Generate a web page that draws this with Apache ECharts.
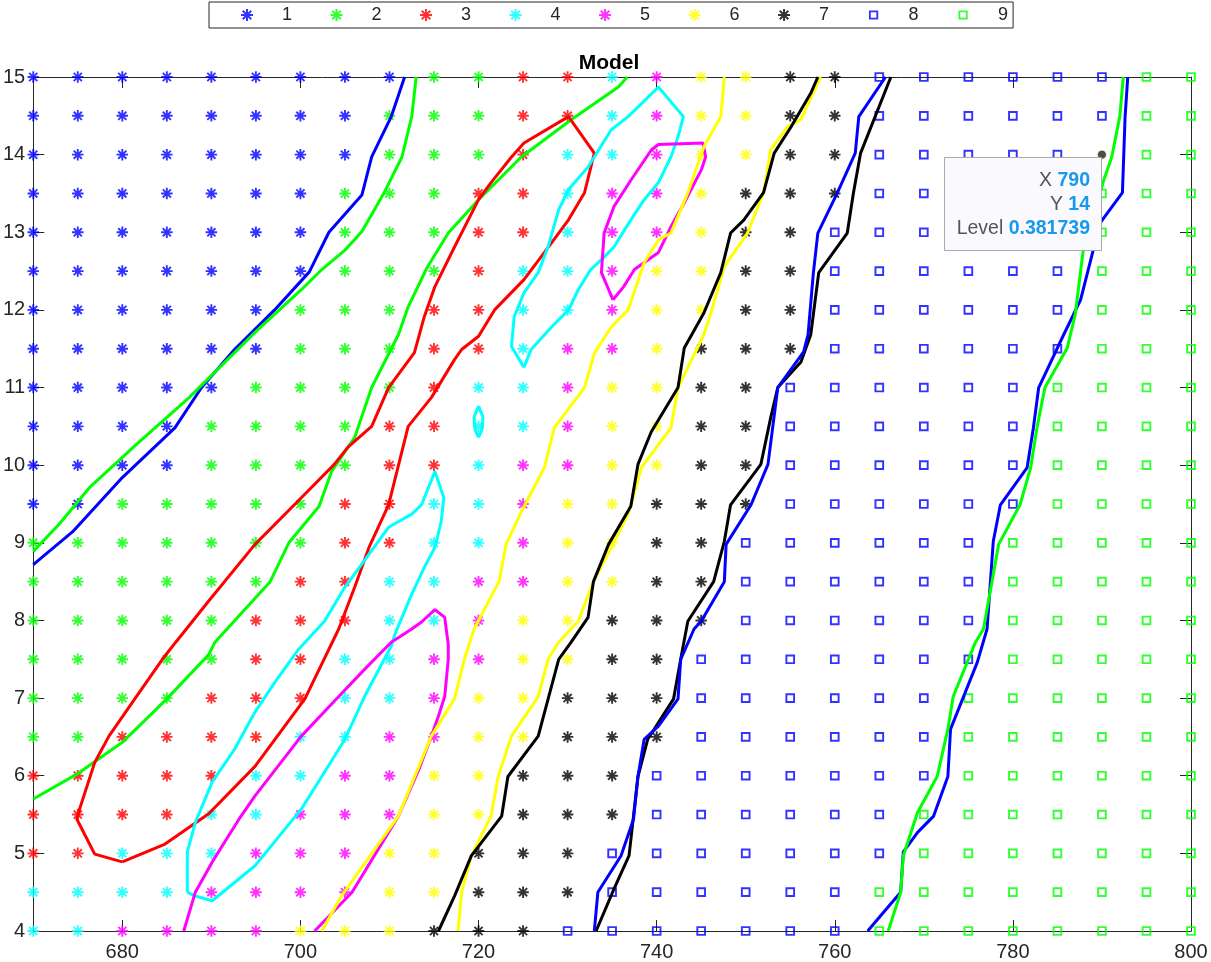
<!DOCTYPE html>
<html><head><meta charset="utf-8">
<script src="https://cdn.jsdelivr.net/npm/echarts@6/dist/echarts.min.js"></script>
<style>html,body{margin:0;padding:0;background:#fff}#c{width:1211px;height:962px}</style>
</head><body><div id="c"></div>
<script>
// ---- data ----
const xValues = [670,675,680,685,690,695,700,705,710,715,720,725,730,735,740,745,750,755,760,765,770,775,780,785,790,795,800];
const yValues = [15,14.5,14,13.5,13,12.5,12,11.5,11,10.5,10,9.5,9,8.5,8,7.5,7,6.5,6,5.5,5,4.5,4];
// class of each grid point, one string per row (y from 15 down to 4), one digit per x column
const classRows = [
  "111111111223345667788888899",
  "111111112223345667788888899",
  "111111112223445667788888899",
  "111111122233455677788888999",
  "111111122233455677888888999",
  "111111122234456677888888999",
  "111111222334456677888888999",
  "111111222334556777888888999",
  "111112222344566778888889999",
  "111122223344566778888889999",
  "111122223345566778888889999",
  "112222233445667778888889999",
  "222222233445667788888899999",
  "222222334455667788888899999",
  "222223334456677788888899999",
  "222223344556677888888899999",
  "222233344566777888888999999",
  "223333445566777888888999999",
  "333334455667778888888999999",
  "333344555667778888889999999",
  "334445556677788888889999999",
  "444455556677788888899999999",
  "445555666777888888899999999"
];
const classNames = ['1','2','3','4','5','6','7','8','9'];
const xTickValues = [680,700,720,740,760,780,800];
const hoverPoint = [790, 14];
const hoverLevel = '0.381739';

const contour1 = [[670,8.72],[674.4,9.14],[680,9.84],[685.9,10.48],[688.9,11.0],[692.6,11.49],[697.1,12.0],[701,12.49],[703.2,13.0],[706.9,13.48],[708,13.97],[710.2,14.49],[711.7,15.0]];
const contour2a = [[670,8.89],[672.9,9.24],[676.3,9.71],[681.9,10.3],[687.5,10.87],[692.6,11.45],[694.9,11.71],[700.1,12.26],[702.4,12.52],[705,12.77],[706.9,13.01],[709.4,13.51],[711.4,13.97],[712.5,14.49],[713,15.0]];
const contour2b = [[670,5.7],[674.9,6.02],[680,6.43],[685,6.99],[689.7,7.56],[690.4,7.72],[696.6,8.5],[698.7,9.0],[702.1,9.47],[703.5,9.92],[706.1,10.36],[708,11.0],[711,11.68],[712.1,12.04],[714.2,12.54],[716.6,12.99],[720,13.42],[724.8,13.97],[730.4,14.45],[735.7,14.87],[736.7,15.0]];
const contour3 = [[680,4.89],[684.8,5.12],[689.7,5.51],[694.9,6.12],[700.5,6.99],[704.3,7.89],[706.1,8.43],[707.7,8.94],[709.9,9.49],[712.1,10.5],[714.7,10.87],[717.3,11.36],[718.1,11.49],[720,11.66],[721.8,12.0],[725.1,12.39],[727.4,12.74],[730.1,13.16],[731.9,13.51],[733,14.02],[730.1,14.49],[725.1,14.15],[723.7,13.97],[721.4,13.64],[720,13.42],[717.3,12.81],[715.1,12.3],[713.9,11.91],[712.8,11.45],[709.9,11.0],[708,10.5],[705.4,10.24],[703.8,10.01],[700.1,9.58],[694.9,8.98],[689.7,8.25],[686,7.72],[684.5,7.5],[681.4,6.99],[678.5,6.51],[676.9,6.17],[675.2,5.57],[674.9,5.44],[676.9,4.99],[680,4.89]];
const contour4a = [[725.1,11.26],[723.7,11.53],[724,11.91],[725.1,12.22],[726.7,12.48],[727.8,12.81],[729,13.29],[730.1,13.55],[732.3,13.84],[734.9,14.32],[736.8,14.49],[740.2,14.87],[743,14.49],[742.4,14.23],[741.6,13.97],[740.2,13.64],[738.6,13.42],[737.1,13.16],[735.2,12.81],[734.1,12.68],[732.6,12.52],[731.2,12.26],[730.1,12.0],[728.2,11.78],[725.9,11.49],[725.1,11.26]];
const contour4b = [[687.3,4.5],[687.3,5.02],[688.2,5.4],[690.1,5.92],[692.6,6.34],[694.9,6.82],[697.1,7.2],[699.8,7.63],[702.7,7.99],[705,8.43],[709.9,9.2],[712.5,9.37],[713.6,9.49],[715.1,9.92],[716.1,9.58],[715.8,9.27],[715.1,8.94],[713.9,8.68],[712.5,8.34],[710.6,7.82],[710.2,7.67],[707.2,7.02],[705,6.47],[702.4,5.99],[700.1,5.57],[694.9,4.84],[690.1,4.39],[688.2,4.45],[687.3,4.5]];
const contour4c = [[720,10.76],[720.5,10.62],[720.4,10.46],[720,10.36],[719.6,10.46],[719.5,10.62],[720,10.76]];
const contour5a = [[735.1,12.13],[733.8,12.48],[734.1,12.99],[735.2,13.33],[737.1,13.67],[739.4,14.06],[740.2,14.13],[745.2,14.15],[745.5,13.97],[745,13.8],[743.1,13.38],[741.6,13.07],[740.2,12.74],[737.5,12.52],[736.3,12.3],[735.1,12.13]];
const contour5b = [[686.9,4.0],[688.2,4.5],[690.1,4.89],[693.1,5.44],[694.9,5.74],[700.1,6.51],[704.3,7.02],[707.2,7.37],[710.2,7.72],[712.5,7.89],[713.6,7.98],[715.1,8.14],[716.2,8.04],[716.6,7.69],[716.6,7.5],[716.2,7.02],[715.5,6.77],[714.7,6.51],[713.3,6.08],[711,5.48],[705.8,4.5],[701.6,4.0]];
const contour6a = [[702.4,4.0],[704.6,4.45],[711,5.48],[714.7,6.51],[717.3,6.99],[718.4,7.5],[719.5,7.89],[722.3,8.5],[723.1,8.98],[724.8,9.4],[727.4,9.97],[728.5,10.48],[731.9,11.0],[733,11.44],[734.9,11.78],[736.8,12.0],[738.6,12.61],[740.2,12.9],[741.6,12.99],[743.5,13.51],[745.3,14.1],[747.2,14.49],[747.6,15.0]];
const contour6b = [[717.7,4.0],[718.1,4.5],[719.2,4.97],[721.4,5.48],[722.2,5.99],[723.7,6.51],[726.7,7.02],[727.8,7.5],[729,7.72],[731.2,7.99],[732.9,8.5],[734.9,8.94],[736.8,9.37],[738.3,9.97],[741.6,10.48],[742.4,11.0],[745.3,11.68],[746.1,11.96],[747.6,12.56],[750.2,12.99],[752,13.51],[752.8,14.06],[754.7,14.36],[756.2,14.45],[758.4,15.0]];
const contour7a = [[715.5,4.0],[717.3,4.45],[719.2,4.97],[722.6,5.48],[723.3,5.99],[726.7,6.51],[729,7.5],[730.4,7.72],[732.3,8.04],[732.9,8.5],[734.6,8.98],[737.1,9.47],[737.9,10.01],[739.4,10.43],[742.4,11.0],[743.1,11.51],[745.3,11.96],[747.2,12.48],[748.3,12.99],[749.8,13.16],[752,13.51],[753.2,14.02],[755.1,14.36],[757.3,14.79],[758.1,15.0]];
const contour7b = [[733.2,4.0],[735.2,4.54],[736.9,4.97],[737.4,5.48],[737.9,5.99],[739,6.47],[741.9,6.99],[742.7,7.5],[743.5,7.99],[746.4,8.5],[747.6,9.02],[748.3,9.49],[751.7,10.01],[752.8,10.61],[753.6,11.0],[756.2,11.33],[757.3,11.68],[758.2,12.48],[761.4,12.99],[762.1,13.51],[762.9,14.02],[766.3,15.0]];
const contour8a = [[733,4.0],[733.4,4.5],[736,4.97],[737.4,5.44],[737.9,5.99],[738.6,6.47],[740.2,6.64],[742.4,6.99],[742.7,7.5],[744.2,7.89],[745,7.99],[747.6,8.5],[747.8,8.98],[750.6,9.49],[752.5,10.01],[753.6,11.0],[756.5,11.46],[757,11.68],[757.6,12.48],[758.1,12.99],[760.3,13.51],[762.3,14.02],[762.7,14.49],[765.7,15.0]];
const contour8b = [[763.7,4.0],[765.1,4.19],[767.4,4.5],[767.7,5.02],[769.3,5.27],[771.1,5.48],[772.7,5.99],[773,6.6],[776,7.46],[777.1,7.89],[777.8,9.02],[778.6,9.49],[781.6,9.97],[782.3,10.48],[782.9,11.0],[785.7,11.68],[787.6,12.13],[789.8,13.12],[792.3,13.51],[792.6,14.49],[792.9,15.0]];
const contour9 = [[766,4.0],[767.4,4.5],[767.7,4.97],[769.3,5.53],[771.5,5.99],[772.7,6.6],[773.3,7.02],[775.8,7.72],[776.7,7.89],[778.4,8.98],[780.8,9.49],[782,9.97],[782.7,10.48],[783.6,11.0],[786.1,11.51],[787,11.94],[787.9,12.77],[790.2,13.67],[791.1,13.97],[792,14.49],[792.4,15.0]];

// ---- styles ----
const classColors = ['#0000ff','#00ff00','#ff0000','#00ffff','#ff00ff','#ffff00','#000000','#0000ff','#00ff00'];
const STAR = 'path://M0 10H24V14H0Z M10 0H14V24H10Z M4.91 2.09L21.91 19.09L19.09 21.91L2.09 4.91Z M19.09 2.09L21.91 4.91L4.91 21.91L2.09 19.09Z';
const SQUARE = 'path://M-1.5 -1.5L-1.5 -1.5Z M11.5 11.5L11.5 11.5Z M0 0H10V10H0Z M2 2V8H8V2Z';
const classSymbols = ['s','s','s','s','s','s','s','q','q'].map(t => t === 's' ? STAR : SQUARE);

const contours = [
  [contour1, 0], [contour2a, 1], [contour2b, 1], [contour3, 2],
  [contour4a, 3], [contour4b, 3], [contour4c, 3], [contour5a, 4], [contour5b, 4],
  [contour6a, 5], [contour6b, 5], [contour7a, 6], [contour7b, 6],
  [contour8a, 7], [contour8b, 7], [contour9, 8]
];

const pts = classNames.map(() => []);
classRows.forEach((row, r) => {
  for (let c = 0; c < row.length; c++) {
    const k = parseInt(row[c], 10) - 1;
    if (xValues[c] === hoverPoint[0] && yValues[r] === hoverPoint[1]) continue;
    pts[k].push([xValues[c], yValues[r]]);
  }
});

const FONT = 'Liberation Sans';
const AX = '#262626';
const series = [];
classNames.forEach((n, k) => {
  series.push({
    name: n, type: 'scatter', data: pts[k], symbol: classSymbols[k],
    symbolSize: k >= 7 ? 12.5 : 11.5, clip: false, z: 2,
    itemStyle: { color: classColors[k] }, silent: true
  });
});
contours.forEach(([d, k], i) => {
  series.push({
    name: 'contour' + i, type: 'line', data: d, showSymbol: false, symbol: 'none',
    clip: false, z: 3, silent: true,
    lineStyle: { color: classColors[k], width: 3 }
  });
});
series.push({
  name: 'hover', type: 'scatter', data: [hoverPoint], symbol: 'circle', symbolSize: 9,
  z: 5, clip: false, silent: true,
  itemStyle: { color: '#1e1e1e', borderColor: '#fff6c0', borderWidth: 1 }
});

const baseAxis = {
  type: 'value', splitLine: { show: false },
  axisLine: { show: true, onZero: false, lineStyle: { color: AX, width: 1 } },
  axisTick: { show: true, inside: true, length: 11, lineStyle: { color: AX, width: 1 } }
};

const chart = echarts.init(document.getElementById('c'), null, { renderer: 'canvas' });
chart.setOption({
  animation: false,
  backgroundColor: '#ffffff',
  grid: { left: 31, right: 20, top: 77, bottom: 30, containLabel: false },
  legend: {
    data: classNames, left: 209, top: 2, orient: 'horizontal',
    itemWidth: 60, itemHeight: 12, itemGap: 38.5,
    padding: [4, 5, 4, 32], borderColor: AX, borderWidth: 1,
    selectedMode: false,
    textStyle: { fontSize: 18, color: AX, fontFamily: FONT }
  },
  xAxis: [
    Object.assign({}, baseAxis, {
      min: 670, max: 800, position: 'bottom',
      axisTick: Object.assign({}, baseAxis.axisTick, { customValues: xTickValues }),
      axisLabel: { customValues: xTickValues, fontSize: 20, color: AX, fontFamily: FONT, margin: 11 }
    }),
    Object.assign({}, baseAxis, {
      min: 670, max: 800, position: 'top',
      axisTick: Object.assign({}, baseAxis.axisTick, { customValues: xTickValues }),
      axisLabel: { show: false }
    })
  ],
  yAxis: [
    Object.assign({}, baseAxis, {
      min: 4, max: 15, interval: 1, position: 'left',
      axisLabel: { fontSize: 20, color: AX, fontFamily: FONT, margin: 8 }
    }),
    Object.assign({}, baseAxis, {
      min: 4, max: 15, interval: 1, position: 'right',
      axisLabel: { show: false }
    })
  ],
  graphic: [
    { type: 'text', x: 609, y: 63, z: 10,
      style: { text: 'Model', fontSize: 21, fontWeight: 'bold', fontFamily: FONT, fill: '#000',
               textAlign: 'center', textVerticalAlign: 'middle', align: 'center', verticalAlign: 'middle' } },
    { type: 'rect', z: 20, shape: { x: 944.5, y: 157.5, width: 157, height: 93 },
      style: { fill: '#f9f9fe', stroke: '#a9a9a9', lineWidth: 1 } },
    { type: 'text', x: 1090, y: 181, z: 21,
      style: { text: '{l|X }{v|' + hoverPoint[0] + '}', textAlign: 'right', textVerticalAlign: 'middle', align: 'right', verticalAlign: 'middle',
               rich: { l: { fontSize: 19.5, fontFamily: FONT, fill: '#555', color: '#555' }, v: { fontSize: 19.5, fontFamily: FONT, fontWeight: 'bold', fill: '#1a98ec', color: '#1a98ec' } } } },
    { type: 'text', x: 1090, y: 205, z: 21,
      style: { text: '{l|Y }{v|' + hoverPoint[1] + '}', textAlign: 'right', textVerticalAlign: 'middle', align: 'right', verticalAlign: 'middle',
               rich: { l: { fontSize: 19.5, fontFamily: FONT, fill: '#555', color: '#555' }, v: { fontSize: 19.5, fontFamily: FONT, fontWeight: 'bold', fill: '#1a98ec', color: '#1a98ec' } } } },
    { type: 'text', x: 1090, y: 229, z: 21,
      style: { text: '{l|Level }{v|' + hoverLevel + '}', textAlign: 'right', textVerticalAlign: 'middle', align: 'right', verticalAlign: 'middle',
               rich: { l: { fontSize: 19.5, fontFamily: FONT, fill: '#555', color: '#555' }, v: { fontSize: 19.5, fontFamily: FONT, fontWeight: 'bold', fill: '#1a98ec', color: '#1a98ec' } } } }
  ],
  series: series
});
</script>
</body></html>
